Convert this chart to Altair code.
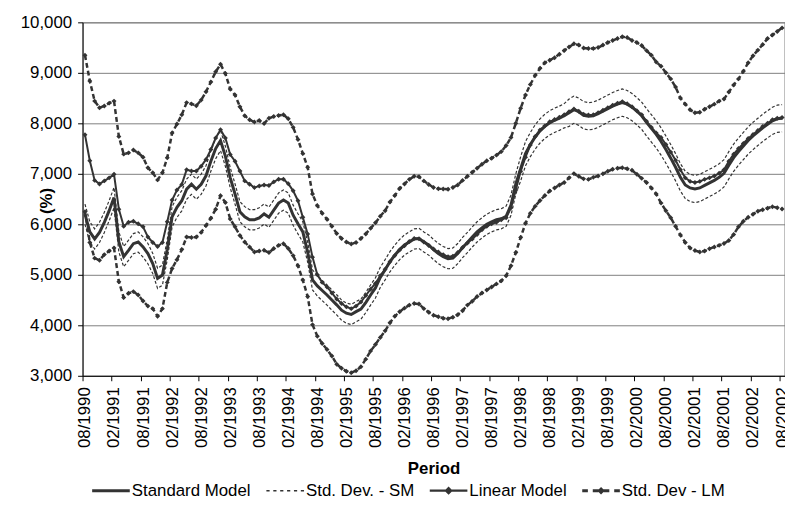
import json
import altair as alt
import pandas as pd

SERIES = ["Standard Model", "Std. Dev. - SM", "Linear Model", "Std. Dev - LM"]

TICK_LABELS = ["08/1990", "02/1991", "08/1991", "02/1992", "08/1992", "02/1993",
               "08/1993", "02/1994", "08/1994", "02/1995", "08/1995", "02/1996",
               "08/1996", "02/1997", "08/1997", "02/1998", "08/1998", "02/1999",
               "08/1999", "02/2000", "08/2000", "02/2001", "08/2001", "02/2002",
               "08/2002"]

# monthly values, 08/1990 .. 08/2002
SM = [6200, 5850, 5710, 5840, 6040, 6270, 6530, 5650, 5360, 5485,
      5616, 5649, 5551, 5420, 5224, 4929, 4995, 5500, 6150, 6336,
      6467, 6696, 6794, 6696, 6794, 6960, 7250, 7500, 7660, 7350,
      6925, 6600, 6250, 6150, 6090, 6090, 6127, 6205, 6140, 6280,
      6420, 6480, 6420, 6180, 6010, 5850, 5450, 4900, 4780, 4690,
      4600, 4500, 4405, 4300, 4240, 4215, 4270, 4320, 4450, 4600,
      4740, 4950, 5100, 5260, 5390, 5500, 5590, 5650, 5710, 5720,
      5650, 5590, 5500, 5420, 5360, 5320, 5330, 5420, 5540, 5640,
      5750, 5850, 5930, 6000, 6050, 6090, 6110, 6160, 6380, 6800,
      7100, 7400, 7580, 7730, 7850, 7940, 8010, 8060, 8100, 8150,
      8210, 8270, 8230, 8160, 8140, 8150, 8190, 8240, 8290, 8340,
      8380, 8410, 8380, 8320, 8240, 8150, 8020, 7900, 7780, 7640,
      7480, 7310, 7130, 6930, 6780, 6720, 6700, 6720, 6770, 6820,
      6870, 6930, 7010, 7170, 7320, 7440, 7550, 7660, 7750, 7830,
      7910, 7980, 8050, 8090, 8100]

SM_UPPER = [6400, 6050, 5910, 6040, 6240, 6470, 6730, 5850, 5560, 5685,
            5816, 5849, 5751, 5620, 5424, 5129, 5195, 5700, 6350, 6536,
            6667, 6896, 6994, 6896, 6994, 7160, 7450, 7700, 7860, 7550,
            7125, 6800, 6450, 6350, 6290, 6290, 6327, 6405, 6340, 6480,
            6620, 6680, 6620, 6380, 6210, 6050, 5650, 5100, 4980, 4890,
            4800, 4700, 4605, 4500, 4440, 4415, 4470, 4520, 4650, 4800,
            4940, 5150, 5300, 5460, 5590, 5700, 5790, 5850, 5910, 5920,
            5850, 5790, 5700, 5620, 5560, 5520, 5530, 5620, 5740, 5840,
            5950, 6050, 6130, 6200, 6250, 6290, 6310, 6360, 6580, 7000,
            7340, 7640, 7820, 7970, 8090, 8180, 8250, 8300, 8340, 8390,
            8480, 8540, 8500, 8430, 8410, 8420, 8460, 8510, 8560, 8610,
            8650, 8680, 8650, 8590, 8510, 8420, 8290, 8170, 8050, 7910,
            7750, 7580, 7400, 7200, 7050, 6990, 6970, 6990, 7040, 7090,
            7140, 7200, 7280, 7440, 7590, 7710, 7820, 7930, 8020, 8100,
            8180, 8250, 8320, 8360, 8370]

SM_LOWER = [6000, 5650, 5510, 5640, 5840, 6070, 6330, 5450, 5160, 5285,
            5416, 5449, 5351, 5220, 5024, 4729, 4795, 5300, 5950, 6136,
            6267, 6496, 6594, 6496, 6594, 6760, 7050, 7300, 7460, 7150,
            6725, 6400, 6050, 5950, 5890, 5890, 5927, 6005, 5940, 6080,
            6220, 6280, 6220, 5980, 5810, 5650, 5250, 4700, 4580, 4490,
            4400, 4300, 4205, 4100, 4040, 4015, 4070, 4120, 4250, 4400,
            4540, 4750, 4900, 5060, 5190, 5300, 5390, 5450, 5510, 5520,
            5450, 5390, 5300, 5220, 5160, 5120, 5130, 5220, 5340, 5440,
            5550, 5650, 5730, 5800, 5850, 5890, 5910, 5960, 6180, 6600,
            6860, 7160, 7340, 7490, 7610, 7700, 7770, 7820, 7860, 7910,
            7940, 8000, 7960, 7890, 7870, 7880, 7920, 7970, 8020, 8070,
            8110, 8140, 8110, 8050, 7970, 7880, 7750, 7630, 7510, 7370,
            7210, 7040, 6860, 6660, 6510, 6450, 6430, 6450, 6500, 6550,
            6600, 6660, 6740, 6900, 7050, 7170, 7280, 7390, 7480, 7560,
            7640, 7710, 7780, 7820, 7830]

LM = [7775, 7260, 6870, 6800, 6860, 6920, 6990, 6300, 5960, 6040,
      6060, 6010, 5950, 5750, 5640, 5560, 5640, 6050, 6480, 6680,
      6790, 7080, 7055, 7055, 7150, 7285, 7480, 7710, 7875, 7710,
      7383, 7250, 7055, 6860, 6795, 6727, 6760, 6780, 6770, 6840,
      6893, 6893, 6805, 6663, 6467, 6140, 5810, 5350, 5000, 4850,
      4760, 4640, 4520, 4430, 4365, 4330, 4380, 4460, 4590, 4715,
      4830, 4980, 5110, 5260, 5380, 5490, 5575, 5660, 5720, 5715,
      5650, 5580, 5510, 5450, 5400, 5360, 5370, 5440, 5540, 5630,
      5710, 5800, 5890, 5960, 6010, 6040, 6090, 6130, 6330, 6680,
      7050, 7330, 7570, 7740, 7870, 7950, 8030, 8075, 8120, 8170,
      8230, 8286, 8240, 8180, 8165, 8170, 8210, 8260, 8310, 8360,
      8400, 8430, 8390, 8330, 8250, 8170, 8040, 7920, 7810, 7720,
      7580, 7430, 7270, 7080, 6920, 6850, 6827, 6850, 6890, 6920,
      6958, 7010, 7080, 7250, 7390, 7500, 7600, 7700, 7780, 7860,
      7940, 8000, 8070, 8100, 8116]

LM_UPPER = [9350, 8840, 8440, 8310, 8345, 8400, 8440, 7740, 7390, 7415,
            7470, 7415, 7330, 7120, 7020, 6880, 7020, 7320, 7810, 7985,
            8170, 8410, 8385, 8350, 8460, 8625, 8820, 9020, 9170, 8985,
            8680, 8560, 8330, 8150, 8070, 8025, 8055, 7995, 8100, 8135,
            8155, 8170, 8090, 7920, 7680, 7400, 7130, 6600, 6370, 6220,
            6100, 5960, 5820, 5720, 5650, 5610, 5640, 5720, 5810, 5920,
            6030, 6160, 6270, 6440, 6570, 6710, 6800, 6890, 6950, 6940,
            6860, 6790, 6730, 6705, 6700, 6694, 6730, 6780, 6870, 6950,
            7030, 7110, 7190, 7260, 7310, 7370, 7440, 7560, 7720, 8000,
            8300, 8560, 8770, 8950, 9090, 9200, 9250, 9300, 9370, 9444,
            9510, 9575, 9550, 9490, 9480, 9480, 9500, 9550, 9600, 9640,
            9680, 9715, 9700, 9641, 9600, 9540, 9440, 9350, 9215, 9130,
            9000, 8880, 8720, 8500, 8380, 8267, 8210, 8220, 8280, 8330,
            8380, 8440, 8480, 8620, 8760, 8880, 9030, 9200, 9340, 9450,
            9560, 9680, 9750, 9817, 9890]

LM_LOWER = [6250, 5640, 5330, 5290, 5400, 5470, 5530, 4864, 4550, 4635,
            4667, 4600, 4480, 4380, 4330, 4180, 4330, 4850, 5125, 5300,
            5500, 5750, 5740, 5747, 5840, 5976, 6120, 6300, 6565, 6433,
            6106, 5950, 5780, 5650, 5550, 5451, 5470, 5485, 5440, 5520,
            5583, 5616, 5520, 5380, 5180, 4896, 4569, 4013, 3784, 3640,
            3520, 3390, 3230, 3150, 3090, 3060, 3100, 3180, 3330, 3490,
            3620, 3760, 3890, 4050, 4180, 4270, 4340, 4400, 4430, 4420,
            4330, 4260, 4200, 4170, 4140, 4130, 4160, 4210, 4290, 4400,
            4476, 4570, 4640, 4700, 4760, 4820, 4880, 4980, 5180, 5440,
            5740, 6020, 6220, 6360, 6470, 6570, 6660, 6720, 6780, 6830,
            6920, 7004, 6950, 6900, 6890, 6930, 6958, 7000, 7050, 7090,
            7110, 7122, 7100, 7070, 6990, 6910, 6827, 6720, 6600, 6420,
            6270, 6130, 5960, 5790, 5640, 5530, 5480, 5452, 5470, 5518,
            5550, 5583, 5620, 5680, 5800, 5950, 6060, 6140, 6200, 6260,
            6290, 6320, 6349, 6330, 6303]

rows = []
for name, part, vals in [
    (SERIES[0], "mid", SM), (SERIES[1], "up", SM_UPPER), (SERIES[1], "lo", SM_LOWER),
    (SERIES[2], "mid", LM), (SERIES[3], "up", LM_UPPER), (SERIES[3], "lo", LM_LOWER),
]:
    for m, v in enumerate(vals):
        rows.append({"m": m, "v": v, "series": name, "part": part})
df = pd.DataFrame(rows)

INK = "#333333"
FONT = "Liberation Sans"


def rect(x0, x1, h):
    return f"M{x0:.3f},{-h:.3f}H{x1:.3f}V{h:.3f}H{x0:.3f}Z"


def diamond(r):
    return f"M{-r},0L0,{-r}L{r},0L0,{r}Z"


dots = "".join(rect(-1 + k * 0.366, -1 + k * 0.366 + 0.17, 0.04) for k in range(6))
PATHS = [
    rect(-1, 1, 0.08),
    dots,
    rect(-1, 1, 0.055) + diamond(0.22),
    rect(-1, -0.7, 0.08) + rect(-0.44, -0.14, 0.08) + diamond(0.2)
    + rect(0.14, 0.44, 0.08) + rect(0.7, 1, 0.08),
]

label_expr = json.dumps(TICK_LABELS) + "[round((datum.value + 0.5) / 6)]"

X = alt.X("m:Q",
          scale=alt.Scale(domain=[-0.5, 144.5], nice=False, zero=False),
          axis=alt.Axis(values=[-0.5 + 6 * k for k in range(25)], labelExpr=label_expr,
                        labelAngle=-90, labelOffset=2.445, labelPadding=6,
                        labelOverlap=False, labelFlush=False, tickSize=5, grid=False,
                        title="Period", titleY=99, titleBaseline="alphabetic"))
Y = alt.Y("v:Q",
          scale=alt.Scale(domain=[3000, 10000], nice=False, zero=False),
          axis=alt.Axis(values=list(range(3000, 10001, 1000)), format=",.0f", tickSize=5,
                        labelPadding=6, labelFlush=False, grid=True,
                        title="(%)", titleX=-36, titleY=180, titleAngle=-90,
                        titleAlign="center", titleBaseline="middle"))

base = alt.Chart(df).encode(x=X, y=Y)

sd_sm = base.transform_filter(alt.datum.series == SERIES[1]).mark_line(
    color=INK, strokeWidth=1.2, strokeDash=[3, 2]).encode(detail="part:N")
sm = base.transform_filter(alt.datum.series == SERIES[0]).mark_line(
    color=INK, strokeWidth=3)
sd_lm = base.transform_filter(alt.datum.series == SERIES[3]).mark_line(
    color=INK, strokeWidth=2.5, strokeDash=[5, 3]).encode(detail="part:N")
sd_lm_pts = base.transform_filter(alt.datum.series == SERIES[3]).mark_point(
    shape="diamond", filled=True, color=INK, size=25, opacity=1)
lm = base.transform_filter(alt.datum.series == SERIES[2]).mark_line(
    color=INK, strokeWidth=2)
lm_pts = base.transform_filter(alt.datum.series == SERIES[2]).mark_point(
    shape="diamond", filled=True, color=INK, size=25, opacity=1)

legend_layer = base.transform_filter(alt.datum.m == 0).mark_point(
    opacity=0, filled=True, color=INK).encode(
    shape=alt.Shape("series:N", scale=alt.Scale(domain=SERIES, range=PATHS),
                    legend=alt.Legend(orient="none", legendX=9.7, legendY=454,
                                      direction="horizontal", columns=4, title=None,
                                      labelFont=FONT, labelFontSize=17, labelColor="black",
                                      symbolSize=1444, symbolFillColor=INK,
                                      symbolStrokeWidth=0, symbolOpacity=1,
                                      labelOffset=2, columnPadding=15, padding=0,
                                      labelLimit=300)))

chart = alt.layer(sd_sm, sm, sd_lm, sd_lm_pts, lm, lm_pts, legend_layer).properties(
    width=709, height=357,
    autosize=alt.AutoSizeParams(type="none"),
    padding={"left": 75.3, "top": 12, "right": 0.5, "bottom": 126},
).configure_view(stroke="#808080", strokeWidth=1).configure_axis(
    labelFont=FONT, labelFontSize=17, labelColor="black",
    titleFont=FONT, titleFontSize=17, titleFontWeight="bold", titleColor="black",
    domainColor="black", tickColor="black", gridColor="#808080",
    domainWidth=1, tickWidth=1, gridWidth=1,
)

chart.save("out.html", embed_options={"renderer": "svg", "actions": False})
